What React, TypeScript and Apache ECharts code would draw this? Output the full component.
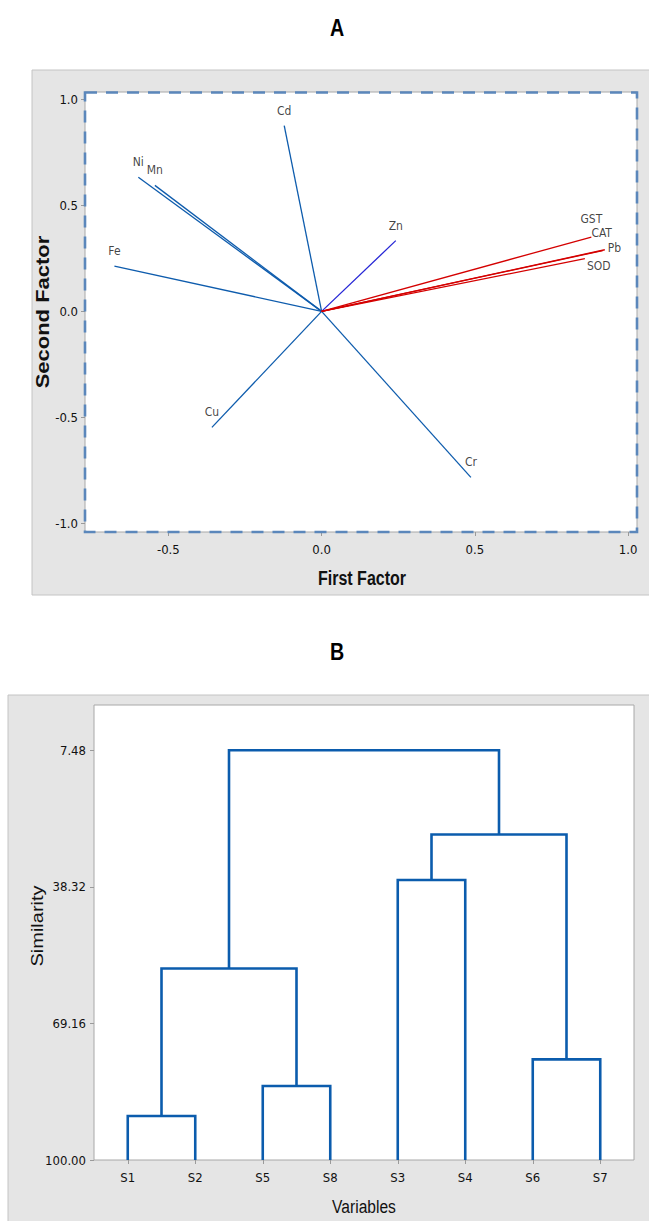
import React, { useEffect, useRef } from "react";
import * as echarts from "echarts";

// ---------- Data: Factor loadings (panel A) ----------
const loadingNames = ["Cd", "Ni", "Mn", "Fe", "Zn", "GST", "CAT", "Pb", "SOD", "Cu", "Cr"];
const firstFactor = [-0.122, -0.598, -0.544, -0.676, 0.242, 0.88, 0.917, 0.924, 0.859, -0.358, 0.487];
const secondFactor = [0.877, 0.633, 0.595, 0.214, 0.334, 0.351, 0.287, 0.291, 0.249, -0.548, -0.784];
const loadingGroup = ["metal", "metal", "metal", "metal", "zn", "enzyme", "enzyme", "enzyme", "enzyme", "metal", "metal"];
const factorTicks = [-1.0, -0.5, 0.0, 0.5, 1.0];

// ---------- Data: Dendrogram (panel B) ----------
const variables = ["S1", "S2", "S5", "S8", "S3", "S4", "S6", "S7"];
// clusters numbered after the leaves: 8, 9, 10, ...
const mergeLeft = [0, 2, 6, 8, 4, 12, 11];
const mergeRight = [1, 3, 7, 9, 5, 10, 13];
const mergeSimilarity = [90.07, 83.3, 77.28, 56.77, 36.76, 26.5, 7.48];
const similarityTicks = [7.48, 38.32, 69.16, 100.0];

// ---------- Styles ----------
const NARROW = "'DejaVu Sans Condensed', 'Liberation Sans Narrow', sans-serif";
const SANS = "'Liberation Sans', Arial, sans-serif";
const groupColor: Record<string, string> = { metal: "#0e5cad", zn: "#2626d6", enzyme: "#d40000" };
const labelPlacement: Record<string, any> = {
  GST: { position: "top", distance: 11, offset: [0, 0] },
  CAT: { position: "top", distance: 10.5, offset: [-1, 0] },
  Pb: { position: "right", distance: 2, offset: [0, -2] },
  SOD: { position: "right", distance: 1, offset: [0, 7] },
};

export default function App() {
  const ref = useRef<HTMLDivElement>(null);

  useEffect(() => {
    if (!ref.current) return;
    const chart = echarts.init(ref.current, undefined, { renderer: "svg" });

    // Panel A series
    const vectorSeries: any[] = loadingNames.map((name, i) => ({
      type: "line",
      name,
      xAxisIndex: 0,
      yAxisIndex: 0,
      symbol: "none",
      silent: true,
      lineStyle: { color: groupColor[loadingGroup[i]], width: 1.3 },
      data: [
        [0, 0],
        [firstFactor[i], secondFactor[i]],
      ],
      z: loadingGroup[i] === "enzyme" ? 4 : 3,
    }));

    const labelSeries = {
      type: "scatter",
      xAxisIndex: 0,
      yAxisIndex: 0,
      symbolSize: 2,
      silent: true,
      itemStyle: { color: "rgba(0,0,0,0)" },
      label: {
        show: true,
        formatter: "{b}",
        position: "top",
        distance: 8,
        fontSize: 12,
        lineHeight: 12,
        fontFamily: NARROW,
        color: "#111",
      },
      data: loadingNames.map((name, i) => ({
        name,
        value: [firstFactor[i], secondFactor[i]],
        label: labelPlacement[name] || undefined,
      })),
      z: 5,
    };

    // Panel B: dendrogram brackets
    const nodeX: number[] = variables.map((_, i) => i);
    const nodeY: number[] = variables.map(() => 100);
    const bracketSeries: any[] = [];
    mergeSimilarity.forEach((h, k) => {
      const l = mergeLeft[k];
      const r = mergeRight[k];
      bracketSeries.push({
        type: "line",
        xAxisIndex: 1,
        yAxisIndex: 1,
        symbol: "none",
        silent: true,
        lineStyle: { color: "#0b5cad", width: 2.6, cap: "butt", join: "miter" },
        data: [
          [nodeX[l], nodeY[l]],
          [nodeX[l], h],
          [nodeX[r], h],
          [nodeX[r], nodeY[r]],
        ],
      });
      nodeX.push((nodeX[l] + nodeX[r]) / 2);
      nodeY.push(h);
    });

    const tickStyle = { show: true, length: 4, lineStyle: { color: "#9a9a9a", width: 1 } };
    const hiddenLine = { show: false, onZero: false };
    const tickLabel = { fontSize: 13, fontFamily: NARROW, color: "#111" };

    chart.setOption({
      animation: false,
      backgroundColor: "#ffffff",
      grid: [
        { left: 85, top: 92, width: 552, height: 440, show: true, backgroundColor: "#ffffff", borderColor: "#a8a8a8", borderWidth: 1 },
        { left: 94, top: 705, width: 540, height: 455, show: true, backgroundColor: "#ffffff", borderColor: "#a8a8a8", borderWidth: 1 },
      ],
      xAxis: [
        {
          type: "value",
          gridIndex: 0,
          position: "bottom",
          min: -0.772,
          max: 1.029,
          axisLine: hiddenLine,
          splitLine: { show: false },
          axisTick: { ...tickStyle, customValues: [-0.5, 0, 0.5, 1.0] },
          axisLabel: {
            ...tickLabel,
            customValues: [-0.5, 0, 0.5, 1.0],
            formatter: (v: number) => v.toFixed(1),
            margin: 11,
          },
        },
        {
          type: "value",
          gridIndex: 1,
          position: "bottom",
          min: -0.5,
          max: 7.5,
          axisLine: hiddenLine,
          splitLine: { show: false },
          axisTick: { ...tickStyle, customValues: variables.map((_, i) => i) },
          axisLabel: {
            ...tickLabel,
            customValues: variables.map((_, i) => i),
            formatter: (v: number) => variables[Math.round(v)],
            margin: 11,
          },
        },
      ],
      yAxis: [
        {
          type: "value",
          gridIndex: 0,
          position: "left",
          min: -1.042,
          max: 1.036,
          axisLine: hiddenLine,
          splitLine: { show: false },
          axisTick: { ...tickStyle, customValues: factorTicks },
          axisLabel: {
            ...tickLabel,
            customValues: factorTicks,
            formatter: (v: number) => v.toFixed(1),
            margin: 7,
          },
        },
        {
          type: "value",
          gridIndex: 1,
          position: "left",
          inverse: true,
          min: -2.74,
          max: 100,
          axisLine: hiddenLine,
          splitLine: { show: false },
          axisTick: { ...tickStyle, customValues: similarityTicks },
          axisLabel: {
            ...tickLabel,
            customValues: similarityTicks,
            formatter: (v: number) => v.toFixed(2),
            margin: 8,
          },
        },
      ],
      graphic: [
        { type: "rect", z: -10, shape: { x: 32, y: 70, width: 620, height: 525 }, style: { fill: "#e5e5e5", stroke: "#c4c4c4", lineWidth: 1 } },
        { type: "rect", z: -10, shape: { x: 8, y: 695, width: 645, height: 530 }, style: { fill: "#e5e5e5", stroke: "#c4c4c4", lineWidth: 1 } },
        {
          type: "rect",
          z: 20,
          shape: { x: 85, y: 92.5, width: 552, height: 439.5 },
          style: { fill: "none", stroke: "#5b87bb", lineWidth: 2.6, lineDash: [12, 9] },
        },
        { type: "text", z: 20, x: 337, y: 28, scaleX: 0.82, style: { text: "A", font: `bold 24px ${SANS}`, fill: "#000", textAlign: "center", textVerticalAlign: "middle" } },
        { type: "text", z: 20, x: 337, y: 652, scaleX: 0.82, style: { text: "B", font: `bold 24px ${SANS}`, fill: "#000", textAlign: "center", textVerticalAlign: "middle" } },
        { type: "text", z: 20, x: 362, y: 578, scaleX: 0.8, style: { text: "First Factor", font: `bold 20px ${SANS}`, fill: "#111", textAlign: "center", textVerticalAlign: "middle" } },
        {
          type: "text",
          z: 20,
          x: 43,
          y: 312,
          rotation: Math.PI / 2,
          scaleY: 0.85,
          style: { text: "Second Factor", font: `bold 22px ${SANS}`, fill: "#111", textAlign: "center", textVerticalAlign: "middle" },
        },
        { type: "text", z: 20, x: 364, y: 1206, scaleX: 0.82, style: { text: "Variables", font: `19px ${SANS}`, fill: "#111", textAlign: "center", textVerticalAlign: "middle" } },
        {
          type: "text",
          z: 20,
          x: 37,
          y: 926,
          rotation: Math.PI / 2,
          scaleY: 0.85,
          style: { text: "Similarity", font: `20px ${SANS}`, fill: "#111", textAlign: "center", textVerticalAlign: "middle" },
        },
      ],
      series: [...vectorSeries, labelSeries, ...bracketSeries],
    });

    return () => chart.dispose();
  }, []);

  return <div ref={ref} style={{ position: "absolute", left: 0, top: 0, width: 649, height: 1221 }} />;
}
